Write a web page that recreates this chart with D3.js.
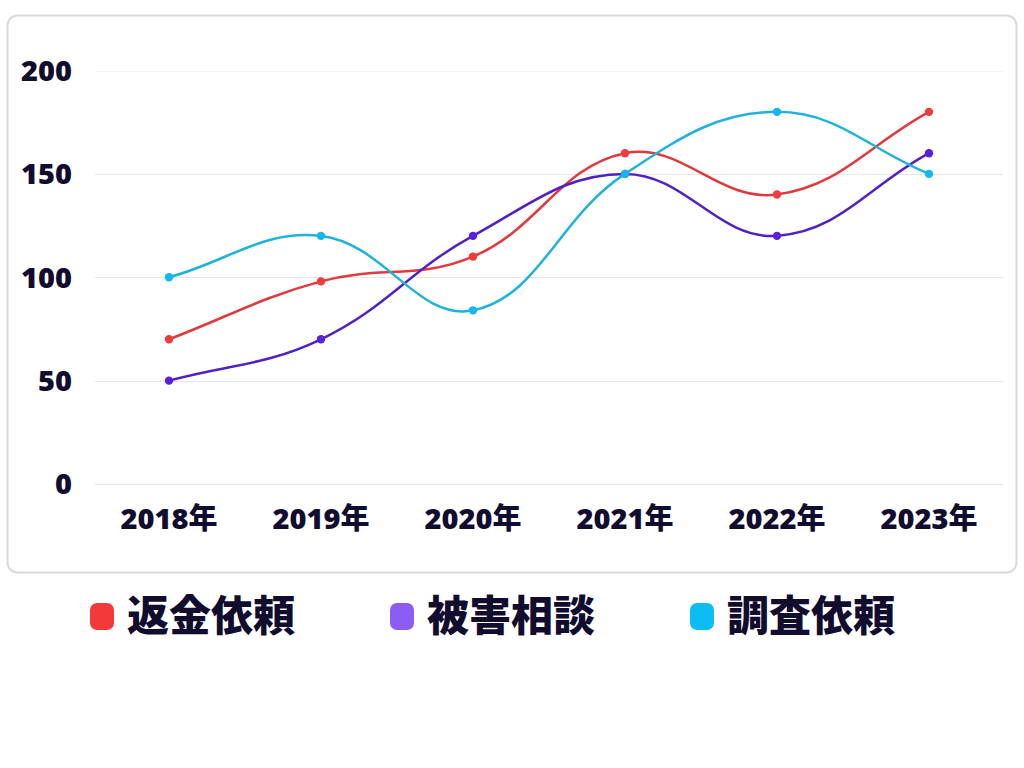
<!DOCTYPE html>
<html>
<head>
<meta charset="utf-8">
<script src="https://cdn.jsdelivr.net/npm/d3@7"></script>
<style>
  html, body { margin: 0; padding: 0; background: #fff; }
  svg { display: block; }
</style>
</head>
<body>
<svg id="chart" width="1024" height="768"></svg>
<script>
// categories and series
const years = ['2018年', '2019年', '2020年', '2021年', '2022年', '2023年'];
const refundRequests = [70, 98, 110, 160, 140, 180];   // 返金依頼
const damageConsults = [50, 70, 120, 150, 120, 160];   // 被害相談
const investigationRequests = [100, 120, 84, 150, 180, 150]; // 調査依頼
const yTicks = [0, 50, 100, 150, 200];

const series = [
  { name: '返金依頼', values: refundRequests, line: '#e0393e', point: '#ef3b3b', legend: '#f23a3a' },
  { name: '被害相談', values: damageConsults, line: '#5021c4', point: '#5a20df', legend: '#8b5cf6' },
  { name: '調査依頼', values: investigationRequests, line: '#1fb3dc', point: '#14b7ef', legend: '#0bbcf5' }
];

const svg = d3.select('#chart');
const textColor = '#120d2e';
const font = '"Open Sans", "Noto Sans CJK JP", sans-serif';

// card frame
svg.append('rect')
  .attr('x', 7.5).attr('y', 15.5)
  .attr('width', 1009).attr('height', 557)
  .attr('rx', 10)
  .attr('fill', '#fff')
  .attr('stroke', '#dadada')
  .attr('stroke-width', 2);

// plot area
const plot = { left: 93, right: 1005, top: 70.5, bottom: 484 };

const x = d3.scaleBand().domain(years).range([plot.left, plot.right]);
const y = d3.scaleLinear().domain([0, 200]).range([plot.bottom, plot.top]);
const cx = d => x(d) + x.bandwidth() / 2;

// grid lines
svg.append('g')
  .selectAll('line')
  .data(yTicks)
  .enter()
  .append('line')
  .attr('x1', plot.left + 2)
  .attr('x2', plot.right - 2)
  .attr('y1', d => Math.round(y(d)) + 0.5)
  .attr('y2', d => Math.round(y(d)) + 0.5)
  .attr('stroke', d => d === 200 ? '#f4f4f4' : '#e6e6e6')
  .attr('stroke-width', 1);

// y labels
svg.append('g')
  .selectAll('text')
  .data(yTicks)
  .enter()
  .append('text')
  .attr('x', 72)
  .attr('y', d => y(d))
  .attr('dy', '0.36em')
  .attr('text-anchor', 'end')
  .attr('font-family', font)
  .attr('font-weight', 800)
  .attr('font-size', 29)
  .attr('fill', textColor)
  .text(d => d);

// x labels
svg.append('g')
  .selectAll('text')
  .data(years)
  .enter()
  .append('text')
  .attr('x', d => cx(d))
  .attr('y', 529)
  .attr('text-anchor', 'middle')
  .attr('font-family', font)
  .attr('font-weight', 800)
  .attr('font-size', 29)
  .attr('fill', textColor)
  .text(d => d);

// spline like the chart's smooth lines (tension 0.4)
function splineCurve(context) {
  let pts;
  const t = 0.4;
  return {
    areaStart() {}, areaEnd() {},
    lineStart() { pts = []; },
    point(px, py) { pts.push([px, py]); },
    lineEnd() {
      const n = pts.length;
      const ctrl = pts.map((p, i) => {
        const prev = pts[Math.max(0, i - 1)];
        const next = pts[Math.min(n - 1, i + 1)];
        const d01 = Math.hypot(p[0] - prev[0], p[1] - prev[1]);
        const d12 = Math.hypot(next[0] - p[0], next[1] - p[1]);
        let s01 = d01 / (d01 + d12), s12 = d12 / (d01 + d12);
        if (isNaN(s01)) s01 = 0;
        if (isNaN(s12)) s12 = 0;
        const fa = t * s01, fb = t * s12;
        return {
          before: [p[0] - fa * (next[0] - prev[0]), p[1] - fa * (next[1] - prev[1])],
          after: [p[0] + fb * (next[0] - prev[0]), p[1] + fb * (next[1] - prev[1])]
        };
      });
      context.moveTo(pts[0][0], pts[0][1]);
      for (let i = 1; i < n; i++) {
        const a = ctrl[i - 1].after, b = ctrl[i].before;
        context.bezierCurveTo(a[0], a[1], b[0], b[1], pts[i][0], pts[i][1]);
      }
    }
  };
}

const line = d3.line()
  .x((d, i) => cx(years[i]))
  .y(d => y(d))
  .curve(splineCurve);

const lines = svg.append('g');
series.forEach(s => {
  lines.append('path')
    .datum(s.values)
    .attr('d', line)
    .attr('fill', 'none')
    .attr('stroke', s.line)
    .attr('stroke-width', 2.5);
});

series.forEach(s => {
  svg.append('g')
    .selectAll('circle')
    .data(s.values)
    .enter()
    .append('circle')
    .attr('cx', (d, i) => cx(years[i]))
    .attr('cy', d => y(d))
    .attr('r', 4.2)
    .attr('fill', s.point);
});

// legend
const legend = svg.append('g')
  .selectAll('g')
  .data(series)
  .enter()
  .append('g')
  .attr('transform', (d, i) => `translate(${90 + i * 300}, 603)`);

legend.append('rect')
  .attr('width', 24).attr('height', 27)
  .attr('rx', 7)
  .attr('fill', d => d.legend);

legend.append('text')
  .attr('x', 37)
  .attr('y', 28)
  .attr('font-family', '"Noto Sans CJK JP", sans-serif')
  .attr('font-weight', 900)
  .attr('font-size', 42)
  .attr('fill', textColor)
  .text(d => d.name);
</script>
</body>
</html>
